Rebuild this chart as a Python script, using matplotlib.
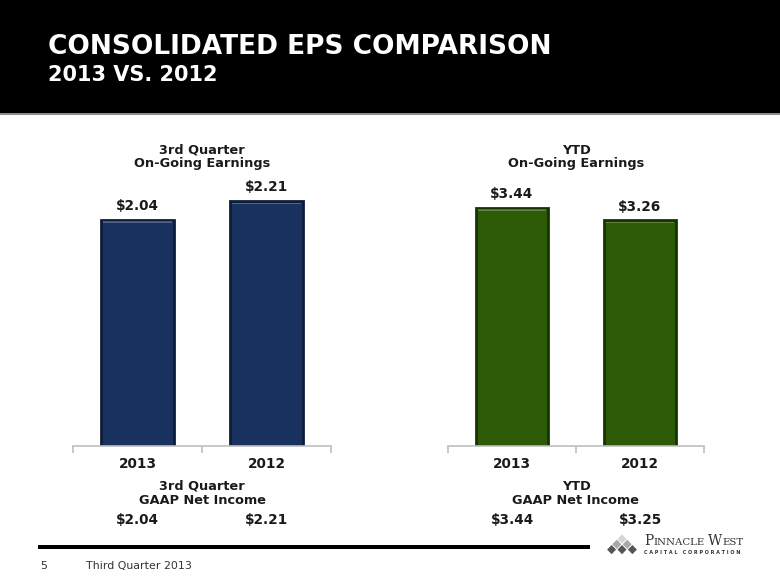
import matplotlib
matplotlib.use("Agg")
import matplotlib.pyplot as plt
from matplotlib.patches import Rectangle, Polygon

# data
years = ["2013", "2012"]
q3_ongoing = [2.04, 2.21]
ytd_ongoing = [3.44, 3.26]
q3_gaap = ["$2.04", "$2.21"]
ytd_gaap = ["$3.44", "$3.25"]

W, H = 780, 585
BLUE = "#18315F"
BLUE_EDGE = "#0C1C3A"
GREEN = "#2C5A07"
GREEN_EDGE = "#173303"
AX_GRAY = "#BFBFBF"
TXT = "#1A1A1A"


def fx(x):
    return x / W


def fy(y):
    return 1 - y / H


fig = plt.figure(figsize=(7.8, 5.85), dpi=100)
fig.patch.set_facecolor("white")

# header band
fig.patches.append(Rectangle((0, fy(113)), 1, 113 / H, transform=fig.transFigure,
                             facecolor="black", edgecolor="none", zorder=0))
fig.patches.append(Rectangle((0, fy(115)), 1, 2 / H, transform=fig.transFigure,
                             facecolor="#8C8C8C", edgecolor="none", zorder=0))
fig.text(fx(48), fy(47), "CONSOLIDATED EPS COMPARISON", color="white", fontsize=19,
         fontweight="bold", va="center", ha="left")
fig.text(fx(48), fy(75), "2013 VS. 2012", color="white", fontsize=15,
         fontweight="bold", va="center", ha="left")


def draw_panel(left, right, values, color, edge, title1, title2, gaap_vals, ymax):
    base = 446
    top = 180
    ax = fig.add_axes([fx(left), fy(base), fx(right - left), (base - top) / H])
    bars = ax.bar(range(len(values)), values, width=0.57, color=color,
                  edgecolor=edge, linewidth=2.0, zorder=2)
    # simple bevel highlight on top of each bar
    for b in bars:
        ax.add_patch(Rectangle((b.get_x() + 0.02, b.get_height() - ymax * 0.012),
                               b.get_width() - 0.04, ymax * 0.006,
                               facecolor="white", alpha=0.25, edgecolor="none", zorder=3))
        ax.text(b.get_x() + b.get_width() / 2, b.get_height() + ymax * 0.025,
                "$%.2f" % b.get_height(), ha="center", va="bottom",
                fontsize=9.8, fontweight="bold", color=TXT)
    ax.set_xlim(-0.5, len(values) - 0.5)
    ax.set_ylim(0, ymax)
    ax.set_yticks([])
    for s in ["top", "left", "right"]:
        ax.spines[s].set_visible(False)
    ax.spines["bottom"].set_color(AX_GRAY)
    ax.spines["bottom"].set_linewidth(1.2)
    ax.set_xticks(range(len(values)))
    ax.set_xticklabels(years, fontsize=9.8, fontweight="bold", color=TXT)
    ax.tick_params(axis="x", which="major", length=0, pad=8)
    ax.set_xticks([-0.5, 0.5, 1.5], minor=True)
    ax.tick_params(axis="x", which="minor", length=5, color=AX_GRAY, width=1.2)
    ax.patch.set_alpha(0)

    cx = (left + right) / 2
    fig.text(fx(cx), fy(150), title1, ha="center", va="center", fontsize=9.3,
             fontweight="bold", color=TXT)
    fig.text(fx(cx), fy(164), title2, ha="center", va="center", fontsize=9.3,
             fontweight="bold", color=TXT)
    fig.text(fx(cx), fy(486), title1, ha="center", va="center", fontsize=9.3,
             fontweight="bold", color=TXT)
    fig.text(fx(cx), fy(501), "GAAP Net Income", ha="center", va="center",
             fontsize=9.3, fontweight="bold", color=TXT)
    step = (right - left) / len(values)
    for i, g in enumerate(gaap_vals):
        fig.text(fx(left + step * (i + 0.5)), fy(520), g, ha="center", va="center",
                 fontsize=9.8, fontweight="bold", color=TXT)


draw_panel(73, 331, q3_ongoing, BLUE, BLUE_EDGE, "3rd Quarter", "On-Going Earnings",
           q3_gaap, 2.40)
draw_panel(448, 704, ytd_ongoing, GREEN, GREEN_EDGE, "YTD", "On-Going Earnings",
           ytd_gaap, 3.84)

# footer
fig.patches.append(Rectangle((fx(38), fy(549)), fx(552), 4 / H, transform=fig.transFigure,
                             facecolor="black", edgecolor="none"))
fig.text(fx(40), fy(566), "5", fontsize=8, va="center", ha="left", color="#333333")
fig.text(fx(86), fy(566), "Third Quarter 2013", fontsize=7.9, va="center", ha="left",
         color="#333333")

# logo: pyramid of diamonds
hw, hh = 5.2, 5.3
rows = [(1, "#D6D6D6"), (2, "#A8A8A8"), (3, "#555555")]
cx0, cy0 = 622, 539
for r, (n, col) in enumerate(rows):
    for k in range(n):
        x = cx0 + (k - (n - 1) / 2) * 2 * hw
        y = cy0 + r * hh
        pts = [(fx(x), fy(y - hh + 0.7)), (fx(x + hw - 0.7), fy(y)),
               (fx(x), fy(y + hh - 0.7)), (fx(x - hw + 0.7), fy(y))]
        fig.patches.append(Polygon(pts, closed=True, transform=fig.transFigure,
                                   facecolor=col, edgecolor="none"))

# small-caps company name, laid out piece by piece
renderer = fig.canvas.get_renderer()
xpos = 644
for piece, size in [("P", 10), ("INNACLE", 7.3), ("W", 10), ("EST", 7.3)]:
    t = fig.text(fx(xpos), fy(545), piece, family="DejaVu Serif", fontsize=size,
                 color="#333333", va="baseline", ha="left")
    xpos += t.get_window_extent(renderer).width + (3 if piece == "INNACLE" else 0.3)
fig.text(fx(644), fy(552), "C A P I T A L   C O R P O R A T I O N", fontsize=3.5,
         color="#333333", va="center", ha="left", fontweight="bold")

fig.savefig("out.png", dpi=100)
